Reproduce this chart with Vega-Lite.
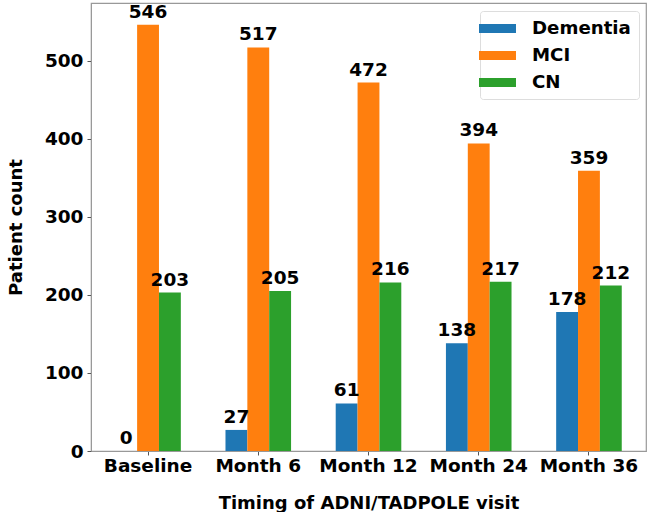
{
  "$schema": "https://vega.github.io/schema/vega-lite/v6.json",
  "width": 555,
  "height": 448,
  "autosize": {"type": "none"},
  "padding": {"left": 91, "top": 3, "right": 1, "bottom": 61},
  "config": {
    "font": "DejaVu Sans",
    "view": {"stroke": "#999999", "strokeWidth": 1.2},
    "axis": {
      "labelFont": "DejaVu Sans", "labelFontWeight": "bold", "labelFontSize": 18.5, "labelColor": "#000000",
      "titleFont": "DejaVu Sans", "titleFontWeight": "bold", "titleFontSize": 18, "titleColor": "#000000",
      "domainColor": "#999999", "tickColor": "#555555", "tickSize": 4, "grid": false
    }
  },
  "data": {
    "values": [
      {"visit": "Baseline", "group": "Dementia", "count": 0},
      {"visit": "Baseline", "group": "MCI", "count": 546},
      {"visit": "Baseline", "group": "CN", "count": 203},
      {"visit": "Month 6", "group": "Dementia", "count": 27},
      {"visit": "Month 6", "group": "MCI", "count": 517},
      {"visit": "Month 6", "group": "CN", "count": 205},
      {"visit": "Month 12", "group": "Dementia", "count": 61},
      {"visit": "Month 12", "group": "MCI", "count": 472},
      {"visit": "Month 12", "group": "CN", "count": 216},
      {"visit": "Month 24", "group": "Dementia", "count": 138},
      {"visit": "Month 24", "group": "MCI", "count": 394},
      {"visit": "Month 24", "group": "CN", "count": 217},
      {"visit": "Month 36", "group": "Dementia", "count": 178},
      {"visit": "Month 36", "group": "MCI", "count": 359},
      {"visit": "Month 36", "group": "CN", "count": 212}
    ]
  },
  "encoding": {
    "x": {
      "field": "visit", "type": "nominal",
      "sort": ["Baseline", "Month 6", "Month 12", "Month 24", "Month 36"],
      "scale": {"paddingInner": 0.405, "paddingOuter": 0.22},
      "axis": {"title": "Timing of ADNI/TADPOLE visit", "labelAngle": 0, "labelPadding": 1, "titlePadding": 20}
    },
    "xOffset": {
      "field": "group", "type": "nominal",
      "sort": ["Dementia", "MCI", "CN"],
      "scale": {"paddingInner": 0, "paddingOuter": 0}
    },
    "y": {
      "field": "count", "type": "quantitative",
      "scale": {"domain": [0, 574], "nice": false},
      "axis": {"title": "Patient count", "values": [0, 100, 200, 300, 400, 500], "labelPadding": 4, "titlePadding": 19}
    },
    "color": {
      "field": "group", "type": "nominal",
      "sort": ["Dementia", "MCI", "CN"],
      "scale": {"domain": ["Dementia", "MCI", "CN"], "range": ["#1f77b4", "#ff7f0e", "#2ca02c"]},
      "legend": {
        "title": null, "orient": "none", "legendX": 389, "legendY": 8,
        "labelFont": "DejaVu Sans", "labelFontWeight": "bold", "labelFontSize": 18.2, "labelColor": "#000000",
        "symbolType": "M-2,-0.5H2V0.5H-2Z", "symbolSize": 342, "symbolStrokeWidth": 0,
        "labelOffset": 25, "rowPadding": 8,
        "fillColor": "#ffffff", "strokeColor": "#dddddd", "cornerRadius": 3, "padding": 8
      }
    }
  },
  "layer": [
    {"mark": {"type": "bar"}},
    {
      "mark": {"type": "text", "baseline": "bottom", "dy": -3, "fontWeight": "bold", "fontSize": 18.5, "color": "#000000"},
      "encoding": {"text": {"field": "count", "type": "quantitative"}, "color": {"value": "#000000"}}
    }
  ]
}
